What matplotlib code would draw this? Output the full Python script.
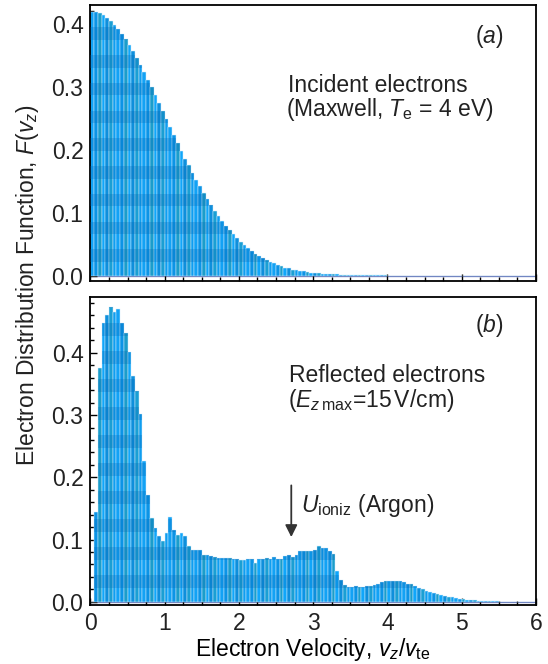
import numpy as np
import matplotlib
matplotlib.use("Agg")
import matplotlib.pyplot as plt
from matplotlib.path import Path
from matplotlib.ticker import MultipleLocator, FormatStrFormatter

plt.rcParams.update(
    {
        "font.family": ["Liberation Sans", "DejaVu Sans"],
        "mathtext.fontset": "custom",
        "mathtext.rm": "Liberation Sans",
        "mathtext.it": "Liberation Sans:italic",
        "mathtext.bf": "Liberation Sans:bold",
        "font.size": 16.5,
        "text.color": "#222222",
        "axes.linewidth": 1.3,
        "xtick.direction": "in",
        "ytick.direction": "in",
        "xtick.major.size": 5,
        "ytick.major.size": 5,
        "xtick.minor.size": 3,
        "ytick.minor.size": 3,
        "xtick.major.pad": 5,
        "ytick.major.pad": 5,
    }
)

# bins of v_z / v_te, width 0.05, from 0 to 6
bin_width = 0.05
v_left = np.round(np.arange(120) * bin_width, 2)

# (a) incident Maxwellian electrons
incident = [
    0.419, 0.418, 0.416, 0.413, 0.409, 0.404, 0.398, 0.391, 0.384, 0.375,
    0.366, 0.356, 0.346, 0.335, 0.323, 0.311, 0.299, 0.287, 0.274, 0.261,
    0.248, 0.236, 0.223, 0.211, 0.198, 0.186, 0.175, 0.163, 0.152, 0.142,
    0.131, 0.122, 0.112, 0.103, 0.095, 0.087, 0.079, 0.072, 0.066, 0.060,
    0.054, 0.049, 0.044, 0.040, 0.035, 0.032, 0.028, 0.025, 0.022, 0.020,
    0.017, 0.015, 0.013, 0.012, 0.010, 0.009, 0.008, 0.007, 0.006, 0.005,
    0.0045, 0.004, 0.0035, 0.003, 0.0028, 0.0025, 0.0023, 0.002, 0.0018, 0.0016,
    0.0015, 0.0014, 0.0013, 0.0012, 0.0011, 0.001, 0.001, 0.0009, 0.0008, 0.0008,
    0, 0, 0, 0, 0, 0, 0, 0, 0, 0,
    0, 0, 0, 0, 0, 0, 0, 0, 0, 0,
    0, 0, 0, 0, 0, 0, 0, 0, 0, 0,
    0, 0, 0, 0, 0, 0, 0, 0, 0, 0,
]

# (b) reflected electrons
reflected = [
    0.0, 0.145, 0.376, 0.448, 0.461, 0.474, 0.466, 0.470, 0.448, 0.432,
    0.402, 0.362, 0.338, 0.301, 0.226, 0.172, 0.135, 0.119, 0.105, 0.097,
    0.110, 0.137, 0.116, 0.108, 0.110, 0.105, 0.089, 0.084, 0.084, 0.084,
    0.075, 0.075, 0.073, 0.072, 0.071, 0.071, 0.070, 0.070, 0.068, 0.068,
    0.067, 0.067, 0.069, 0.069, 0.062, 0.068, 0.068, 0.070, 0.068, 0.072,
    0.068, 0.069, 0.073, 0.075, 0.072, 0.075, 0.081, 0.081, 0.081, 0.082,
    0.083, 0.090, 0.087, 0.087, 0.081, 0.076, 0.050, 0.035, 0.027, 0.023,
    0.024, 0.025, 0.024, 0.024, 0.025, 0.025, 0.027, 0.028, 0.031, 0.034,
    0.034, 0.034, 0.033, 0.033, 0.031, 0.029, 0.028, 0.025, 0.022, 0.020,
    0.018, 0.016, 0.014, 0.013, 0.011, 0.009, 0.008, 0.007, 0.006, 0.005,
    0.004, 0.0035, 0.003, 0.0025, 0.002, 0.0018, 0.0015, 0.0012, 0.001, 0.0008,
    0, 0, 0, 0, 0, 0, 0, 0, 0, 0,
]

palette = ["#12a2f5", "#0c94e6", "#1b9dcb", "#10a6fa", "#0e8fdc", "#1a9fd4", "#0f9ef0"]
bar_colors = [palette[i % len(palette)] for i in range(len(v_left))]


def draw_panel(ax, values, ylim, period):
    ax.axhline(0, color="#5466b0", lw=0.9, zorder=1)
    bars = ax.bar(v_left, values, width=bin_width, align="edge", color=bar_colors,
                  edgecolor="#d2ecfb", linewidth=0.35, zorder=2)
    # darker horizontal banding inside the bars
    clip = Path.make_compound_path(
        *[b.get_path().transformed(b.get_patch_transform()) for b in bars]
    )
    for y0 in np.arange(period * 0.5, ylim[1], period):
        band = ax.axhspan(y0, y0 + period * 0.45, color="#0062b0", alpha=0.26, lw=0, zorder=3)
        band.set_clip_path(clip, ax.transData)
    ax.set_xlim(0, 6)
    ax.set_ylim(*ylim)
    ax.xaxis.set_major_locator(MultipleLocator(1))
    ax.xaxis.set_minor_locator(MultipleLocator(0.25))
    ax.yaxis.set_major_locator(MultipleLocator(0.1))
    ax.yaxis.set_minor_locator(MultipleLocator(0.02))
    ax.yaxis.set_major_formatter(FormatStrFormatter("%.1f"))
    ax.tick_params(which="both", top=False, right=False, width=1.0, labelcolor="#222222")


fig = plt.figure(figsize=(5.48, 6.64), dpi=100)
ax1 = fig.add_axes([0.165, 0.577, 0.813, 0.416])
ax2 = fig.add_axes([0.165, 0.089, 0.813, 0.464])

draw_panel(ax1, incident, (-0.008, 0.430), 0.044)
draw_panel(ax2, reflected, (-0.005, 0.490), 0.045)
ax1.tick_params(labelbottom=False)

ax1.text(0.926, 0.862, r"($\it{a}$)", transform=ax1.transAxes, ha="right", va="baseline")
ax1.text(0.443, 0.685, "Incident electrons", transform=ax1.transAxes, ha="left", va="baseline")
ax1.text(0.440, 0.598, r"(Maxwell, $T_{\rm e}$ = 4 eV)", transform=ax1.transAxes,
         ha="left", va="baseline")

ax2.text(0.926, 0.886, r"($\it{b}$)", transform=ax2.transAxes, ha="right", va="baseline")
ax2.text(0.446, 0.724, "Reflected electrons", transform=ax2.transAxes, ha="left", va="baseline")
ax2.text(0.443, 0.643, r"($E_{z\,\rm max}$=15$\,$V/cm)", transform=ax2.transAxes,
         ha="left", va="baseline")

ax2.annotate("", xy=(2.705, 0.104), xytext=(2.705, 0.187),
             arrowprops=dict(arrowstyle="-|>", color="#333333", lw=1.3,
                             mutation_scale=18, shrinkA=0, shrinkB=0))
ax2.text(2.84, 0.1436, r"$U_{\rm ioniz}$ (Argon)", ha="left", va="baseline")

ax2.set_xlabel(r"Electron Velocity, $v_z$/$v_{\rm te}$", labelpad=1)
fig.text(0.05, 0.570, r"Electron Distribution Function, $F$($v_z$)",
         rotation=90, ha="center", va="center")

fig.savefig("out.png", dpi=100)
